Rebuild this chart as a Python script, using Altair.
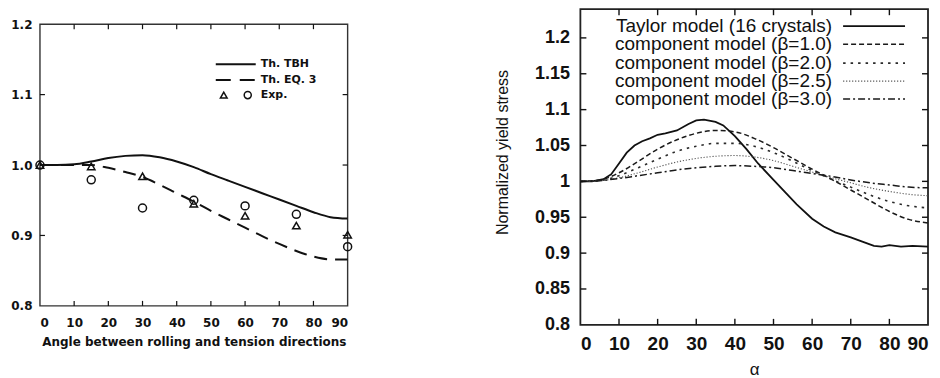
import altair as alt
import pandas as pd

# ---------------- Left panel data ----------------
tbh_angle = [0, 5, 10, 15, 20, 25, 30, 35, 40, 45, 50, 55, 60, 65, 70, 75, 80, 85, 90]
tbh_value = [1.000, 1.000, 1.001, 1.005, 1.010, 1.013, 1.014, 1.011, 1.005, 0.997,
             0.987, 0.978, 0.969, 0.960, 0.951, 0.942, 0.933, 0.926, 0.924]
eq3_angle = [0, 5, 10, 15, 20, 25, 30, 35, 40, 45, 50, 55, 60, 65, 70, 75, 80, 85, 90]
eq3_value = [1.000, 1.000, 1.000, 1.000, 0.996, 0.990, 0.983, 0.972, 0.960, 0.948,
             0.935, 0.923, 0.911, 0.899, 0.888, 0.878, 0.870, 0.866, 0.866]
exp_angle = [0, 15, 30, 45, 60, 75, 90]
exp_triangle = [1.000, 0.998, 0.984, 0.945, 0.928, 0.914, 0.901]
exp_circle = [1.000, 0.979, 0.939, 0.950, 0.942, 0.930, 0.884]
left_xticks = [0, 10, 20, 30, 40, 50, 60, 70, 80, 90]
left_yticks = [0.8, 0.9, 1.0, 1.1, 1.2]
left_xdomain = [0, 90]
left_ydomain = [0.8, 1.2]

# ---------------- Right panel data ----------------
taylor_alpha = [0, 3, 6, 8, 10, 12, 14, 16, 18, 20, 22, 25, 28, 30, 32, 35, 37, 40, 43, 46,
                50, 53, 56, 60, 63, 66, 70, 73, 76, 78, 80, 83, 86, 90]
taylor_value = [1.000, 1.000, 1.003, 1.010, 1.025, 1.040, 1.050, 1.056, 1.060, 1.065, 1.067,
                1.071, 1.080, 1.085, 1.086, 1.083, 1.078, 1.063, 1.045, 1.025, 1.002, 0.985,
                0.968, 0.948, 0.937, 0.929, 0.922, 0.916, 0.910, 0.909, 0.911, 0.909, 0.910, 0.909]
comp_alpha = [0, 5, 10, 15, 20, 25, 30, 35, 40, 45, 50, 55, 60, 65, 70, 75, 80, 85, 90]
beta10 = [1.000, 1.002, 1.012, 1.028, 1.045, 1.058, 1.067, 1.071, 1.069, 1.060, 1.047,
          1.032, 1.017, 1.003, 0.988, 0.973, 0.958, 0.947, 0.942]
beta20 = [1.000, 1.001, 1.008, 1.019, 1.031, 1.042, 1.049, 1.053, 1.053, 1.049, 1.040,
          1.028, 1.015, 1.003, 0.992, 0.981, 0.972, 0.966, 0.963]
beta25 = [1.000, 1.001, 1.005, 1.012, 1.020, 1.027, 1.032, 1.035, 1.036, 1.034, 1.029,
          1.021, 1.013, 1.005, 0.998, 0.991, 0.986, 0.982, 0.980]
beta30 = [1.000, 1.001, 1.004, 1.008, 1.012, 1.016, 1.019, 1.021, 1.022, 1.021, 1.019,
          1.015, 1.011, 1.007, 1.002, 0.998, 0.995, 0.992, 0.991]
right_xticks = [0, 10, 20, 30, 40, 50, 60, 70, 80, 90]
right_yticks = [0.8, 0.85, 0.9, 0.95, 1.0, 1.05, 1.1, 1.15, 1.2]
right_xdomain = [0, 90]
right_ydomain = [0.8, 1.24]
right_legend = ["Taylor model (16 crystals)", "component model (\u03b2=1.0)",
                "component model (\u03b2=2.0)", "component model (\u03b2=2.5)",
                "component model (\u03b2=3.0)"]

INK = "#111111"
one = pd.DataFrame({"k": [0]})


def frame(xdom, ydom, XF, YF, sw, col):
    box = pd.DataFrame({"x0": [xdom[0]], "x1": [xdom[1]], "y0": [ydom[0]], "y1": [ydom[1]]})
    return [
        alt.Chart(box).mark_rect(filled=False, stroke=col, strokeWidth=sw, fillOpacity=0,
                                 strokeOpacity=1).encode(
            x=XF("x0:Q"), x2="x1:Q", y=YF("y0:Q"), y2="y1:Q"),
    ]


def inner_ticks(xvals, yvals, XF, YF, W, H, L, sw):
    dx = pd.DataFrame({"t": xvals})
    dy = pd.DataFrame({"t": yvals})
    b = alt.Chart(dx).mark_rule(color=INK, strokeWidth=sw).encode(
        x=XF("t:Q"), y=alt.value(H), y2=alt.value(H - L))
    t = alt.Chart(dx).mark_rule(color=INK, strokeWidth=sw).encode(
        x=XF("t:Q"), y=alt.value(0), y2=alt.value(L))
    l = alt.Chart(dy).mark_rule(color=INK, strokeWidth=sw).encode(
        y=YF("t:Q"), x=alt.value(0), x2=alt.value(L))
    r = alt.Chart(dy).mark_rule(color=INK, strokeWidth=sw).encode(
        y=YF("t:Q"), x=alt.value(W), x2=alt.value(W - L))
    return [b, t, l, r]


# ================= LEFT PANEL =================
W1, H1 = 308, 282
xs1 = alt.Scale(domain=left_xdomain, nice=False)
ys1 = alt.Scale(domain=left_ydomain, nice=False)
LF = "DejaVu Sans"

x_axis1 = alt.Axis(values=left_xticks, title="Angle between rolling and tension directions",
                   ticks=False, tickSize=0, domain=False, grid=False,
                   labelFont=LF, labelFontWeight="bold", labelFontSize=12, labelColor=INK,
                   labelPadding=12, titleFont=LF, titleFontWeight="bold", titleFontSize=12,
                   titleColor=INK, titlePadding=8)
y_axis1 = alt.Axis(values=left_yticks, format=".1f", title="",
                   ticks=False, tickSize=0, domain=False, grid=False,
                   labelFont=LF, labelFontWeight="bold", labelFontSize=12, labelColor=INK,
                   labelPadding=8)


def X1(f):
    return alt.X(f, scale=xs1, axis=x_axis1)


def Y1(f):
    return alt.Y(f, scale=ys1, axis=y_axis1)


df_tbh = pd.DataFrame({"a": tbh_angle, "v": tbh_value})
df_eq3 = pd.DataFrame({"a": eq3_angle, "v": eq3_value})
df_exp = pd.DataFrame({"a": exp_angle, "tri": exp_triangle, "circ": exp_circle})

tbh = alt.Chart(df_tbh).mark_line(color=INK, strokeWidth=2, interpolate="monotone").encode(
    x=X1("a:Q"), y=Y1("v:Q"))
eq3 = alt.Chart(df_eq3).mark_line(color=INK, strokeWidth=2, strokeDash=[13, 8],
                                  interpolate="monotone").encode(x=X1("a:Q"), y=Y1("v:Q"))
tri = alt.Chart(df_exp).mark_point(shape="triangle-up", filled=False, color=INK, size=55,
                                   strokeWidth=1.5, opacity=1).encode(x=X1("a:Q"), y=Y1("tri:Q"))
circ = alt.Chart(df_exp).mark_point(shape="circle", filled=False, color=INK, size=64,
                                    strokeWidth=1.5, opacity=1).encode(x=X1("a:Q"), y=Y1("circ:Q"))

leg1 = [
    alt.Chart(one).mark_rule(color=INK, strokeWidth=2).encode(
        x=alt.value(176), x2=alt.value(216), y=alt.value(40)),
    alt.Chart(one).mark_rule(color=INK, strokeWidth=2, strokeDash=[15, 9]).encode(
        x=alt.value(176), x2=alt.value(216), y=alt.value(56)),
    alt.Chart(one).mark_point(shape="triangle-up", filled=False, color=INK, size=45,
                              strokeWidth=1.5, opacity=1).encode(x=alt.value(184), y=alt.value(71)),
    alt.Chart(one).mark_point(shape="circle", filled=False, color=INK, size=50,
                              strokeWidth=1.5, opacity=1).encode(x=alt.value(208), y=alt.value(71)),
    alt.Chart(one).mark_text(text="Th. TBH", align="left", baseline="middle", font=LF,
                             fontWeight="bold", fontSize=11, color=INK).encode(
        x=alt.value(221), y=alt.value(40)),
    alt.Chart(one).mark_text(text="Th. EQ. 3", align="left", baseline="middle", font=LF,
                             fontWeight="bold", fontSize=11, color=INK).encode(
        x=alt.value(221), y=alt.value(56)),
    alt.Chart(one).mark_text(text="Exp.", align="left", baseline="middle", font=LF,
                             fontWeight="bold", fontSize=11, color=INK).encode(
        x=alt.value(221), y=alt.value(71)),
]

left_plot = alt.layer(
    *frame(left_xdomain, left_ydomain, X1, Y1, 1.4, "#333333"),
    tbh, eq3, tri, circ,
    *inner_ticks([10, 20, 30, 40, 50, 60, 70, 80], [0.9, 1.0, 1.1], X1, Y1, W1, H1, 5, 1.2),
    *leg1).properties(width=W1, height=H1)

spacer = alt.Chart(pd.DataFrame({"k": []})).mark_point(opacity=0).encode(
    x=alt.value(0), y=alt.value(0)).properties(width=W1, height=1)

left = alt.vconcat(spacer, left_plot, spacing=8)

# ================= RIGHT PANEL =================
W2, H2 = 348, 316
xs2 = alt.Scale(domain=right_xdomain, nice=False)
ys2 = alt.Scale(domain=right_ydomain, nice=False)
RF = "Liberation Sans"

x_axis2 = alt.Axis(values=right_xticks, title="\u03b1", ticks=False, tickSize=0, domain=False,
                   grid=False, labelFont=RF, labelFontWeight="bold", labelFontSize=19,
                   labelColor=INK, labelPadding=10, titleFont=RF, titleFontWeight="normal",
                   titleFontSize=17, titleColor=INK, titlePadding=8)
y_axis2 = alt.Axis(values=right_yticks, format="~g", title="Normalized yield stress",
                   ticks=False, tickSize=0, domain=False, grid=False,
                   labelFont=RF, labelFontWeight="bold", labelFontSize=18, labelColor=INK,
                   labelPadding=11, titleFont=RF, titleFontWeight="normal", titleFontSize=16,
                   titleColor=INK, titlePadding=24, titleY=143)


def X2(f):
    return alt.X(f, scale=xs2, axis=x_axis2)


def Y2(f):
    return alt.Y(f, scale=ys2, axis=y_axis2)


df_tay = pd.DataFrame({"a": taylor_alpha, "v": taylor_value})
df_comp = pd.DataFrame({"a": comp_alpha, "b1": beta10, "b2": beta20, "b25": beta25, "b3": beta30})

taylor = alt.Chart(df_tay).mark_line(color=INK, strokeWidth=1.8).encode(
    x=X2("a:Q"), y=Y2("v:Q"))

styles = [
    ("b1", [5, 3], 1.5, "#1a1a1a"),
    ("b2", [2.5, 5], 1.6, "#2a2a2a"),
    ("b25", [1.2, 1.8], 1.1, "#555555"),
    ("b3", [7, 3, 2, 3], 1.5, "#1a1a1a"),
]
comp_layers = []
for col, dash, sw, colr in styles:
    comp_layers.append(
        alt.Chart(df_comp).mark_line(color=colr, strokeWidth=sw, strokeDash=dash,
                                     interpolate="monotone").encode(
            x=X2("a:Q"), y=Y2(f"{col}:Q")))

leg2 = []
rows_y = [17, 35, 54, 72, 90]
leg_dash = [None, [5, 3], [2.5, 5], [1.2, 1.8], [7, 3, 2, 3]]
leg_sw = [1.8, 1.5, 1.6, 1.1, 1.5]
leg_col = [INK, "#1a1a1a", "#2a2a2a", "#555555", "#1a1a1a"]
for i, lab in enumerate(right_legend):
    leg2.append(alt.Chart(one).mark_text(text=lab, align="right", baseline="middle", font=RF,
                                         fontSize=19, color=INK).encode(
        x=alt.value(252), y=alt.value(rows_y[i])))
    kw = dict(color=leg_col[i], strokeWidth=leg_sw[i])
    if leg_dash[i] is not None:
        kw["strokeDash"] = leg_dash[i]
    leg2.append(alt.Chart(one).mark_rule(**kw).encode(
        x=alt.value(263), x2=alt.value(325), y=alt.value(rows_y[i])))

right = alt.layer(
    *frame(right_xdomain, right_ydomain, X2, Y2, 1.8, "#222222"),
    taylor, *comp_layers,
    *inner_ticks([10, 20, 30, 40, 50, 60, 70, 80],
                 [0.85, 0.9, 0.95, 1.0, 1.05, 1.1, 1.15, 1.2], X2, Y2, W2, H2, 6, 1.4),
    *leg2).properties(width=W2, height=H2)

chart = alt.hconcat(left, right, spacing=139).properties(
    padding={"left": 2, "top": 0, "right": 0, "bottom": 0},
    background="white"
).configure_view(strokeWidth=0)

chart.save("out.html", embed_options={"renderer": "svg", "actions": False})
